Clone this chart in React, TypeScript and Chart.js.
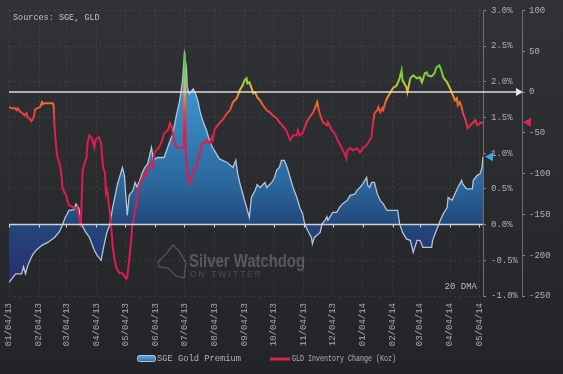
import React, { useEffect, useRef } from "react";
import { Chart, registerables } from "chart.js";

Chart.register(...registerables);

const MONO = '"Liberation Mono", "DejaVu Sans Mono", monospace';

// X axis: days since 01/04/13, monthly tick labels
const monthLabels = [
  "01/04/13", "02/04/13", "03/04/13", "04/04/13", "05/04/13", "06/04/13",
  "07/04/13", "08/04/13", "09/04/13", "10/04/13", "11/04/13", "12/04/13",
  "01/04/14", "02/04/14", "03/04/14", "04/04/14", "05/04/14",
];
const monthDays = [0, 31, 59, 90, 120, 151, 181, 212, 243, 273, 304, 334, 365, 396, 424, 455, 485];
const xMax = 489;

// Left/right axis ranges
const pctRange = [-1, 3];
const pctStep = 0.5;
const gldRange = [-250, 100];
const gldStep = 50;

// SGE Gold Premium (%, 20 DMA)
const premiumDays = [
  0, 4, 7, 13, 15, 17, 19, 20, 23, 25, 28, 34, 40, 47, 52, 55, 58, 62, 67, 69,
  72, 73, 75, 78, 83, 88, 91, 95, 98, 101, 104, 107, 112, 117, 119, 122, 124, 128, 130, 132,
  135, 137, 140, 143, 147, 149, 153, 160, 166, 169, 173, 176, 179, 181, 183, 184, 186, 190, 192, 195,
  197, 200, 204, 207, 210, 214, 217, 225, 231, 234, 236, 238, 243, 248, 250, 254, 256, 259, 264, 266,
  271, 274, 276, 279, 281, 284, 287, 290, 293, 297, 300, 303, 305, 308, 312, 313, 315, 321, 323, 326,
  328, 329, 334, 338, 341, 344, 349, 352, 357, 359, 362, 365, 369, 370, 372, 374, 377, 380, 383, 386,
  390, 401, 403, 406, 410, 414, 417, 421, 424, 427, 436, 437, 441, 445, 448, 452, 453, 457, 460, 463,
  467, 468, 472, 478, 479, 483, 486, 488, 489,
];
const premiumValues = [
  -0.81, -0.74, -0.69, -0.69, -0.59, -0.69, -0.59, -0.55, -0.46, -0.41, -0.36, -0.29, -0.25, -0.18, -0.1, -0.01, 0.1, 0.2, 0.21, 0.29,
  0.23, 0.15, 0.0, -0.08, -0.18, -0.36, -0.43, -0.5, -0.29, -0.11, 0.0, 0.24, 0.57, 0.8, 0.69, 0.13, 0.41, 0.48, 0.59, 0.53,
  0.62, 0.71, 0.8, 0.85, 1.08, 0.9, 0.94, 0.94, 1.17, 1.27, 1.55, 1.73, 2.01, 2.39, 2.2, 1.92, 1.83, 1.9, 1.85, 1.73,
  1.59, 1.45, 1.31, 1.17, 1.08, 0.99, 0.92, 0.87, 0.8, 0.9, 0.71, 0.59, 0.34, 0.1, 0.38, 0.48, 0.56, 0.52, 0.59, 0.52,
  0.59, 0.66, 0.76, 0.8, 0.9, 0.9, 0.8, 0.66, 0.52, 0.38, 0.24, 0.15, 0.01, -0.08, -0.18, -0.27, -0.18, -0.11, 0.01, 0.06,
  0.11, 0.06, 0.17, 0.17, 0.24, 0.29, 0.34, 0.41, 0.43, 0.48, 0.52, 0.57, 0.66, 0.55, 0.52, 0.59, 0.59, 0.43, 0.34, 0.29,
  0.2, 0.2, 0.01, -0.11, -0.2, -0.22, -0.39, -0.22, -0.22, -0.32, -0.32, -0.22, -0.08, 0.06, 0.15, 0.24, 0.38, 0.34, 0.43, 0.52,
  0.62, 0.57, 0.5, 0.5, 0.62, 0.69, 0.71, 0.8, 0.95,
];

// GLD Inventory Change (Koz)
const gldDays = [
  0, 3, 6, 8, 9, 12, 14, 16, 18, 19, 21, 23, 24, 26, 27, 29, 32, 34, 35, 36,
  39, 45, 46, 47, 49, 50, 52, 54, 55, 57, 59, 60, 62, 66, 68, 70, 71, 73, 74, 76,
  78, 80, 81, 83, 85, 86, 88, 89, 91, 93, 95, 97, 99, 100, 101, 102, 104, 106, 107, 109,
  111, 114, 117, 121, 122, 124, 126, 127, 132, 135, 138, 140, 142, 143, 147, 148, 150, 152, 155, 158,
  160, 164, 166, 168, 169, 171, 173, 179, 180.5, 181.3, 182.3, 184, 186, 188, 190, 192, 194, 197, 199, 202,
  204, 207, 209, 210, 212, 214, 217, 220, 225, 228, 231, 235, 238, 241, 243, 245, 246, 248, 250, 252,
  254, 256, 259, 262, 266, 269, 272, 276, 279, 282, 286, 290, 292, 293, 297, 298, 300, 303, 307, 310,
  314, 318, 319, 321, 324, 328, 329, 333, 336, 339, 343, 346, 348, 349, 352, 355, 359, 362, 365, 369,
  372, 374, 375, 377, 380, 381, 383, 385, 386, 388, 390, 393, 396, 400, 403, 405, 406, 410, 411, 414,
  417, 421, 424, 426, 429, 431, 432, 436, 439, 441, 444, 446, 448, 452, 455, 458, 460, 462, 463, 465,
  467, 468, 470, 472, 473, 476, 479, 481, 483, 486, 489,
];
const gldValues = [
  -18.7, -20, -20, -22.4, -20, -24.8, -26, -28.5, -26, -31, -32.2, -35.9, -34.6, -28.5, -21.2, -20, -18.7, -12.6, -15, -13.8,
  -13.8, -13.8, -16.3, -43.3, -71.4, -79.9, -87.3, -99.5, -116.6, -122.8, -126, -132.6, -138.8, -141, -142.4, -141, -147, -157, -165.6, -95.8,
  -87.3, -79.9, -62.8, -53, -55.5, -59.1, -67.7, -59.1, -56.7, -55.5, -62.8, -92, -99.5, -124, -120, -126, -148.5, -173, -190, -206,
  -216, -222, -222, -229, -227, -206, -181.5, -165.6, -132.6, -112, -104.4, -99.5, -103, -92, -87.3, -92, -75, -71.4, -67.7, -59.1,
  -50.6, -46.9, -38.3, -43.3, -50.6, -62.8, -67.7, -69, -67, 48.5, -71.4, -99.5, -111.8, -108, -95.8, -95.8, -87.3, -75, -62.8, -62.8,
  -59, -62.8, -55.5, -59, -46.9, -42.7, -38.3, -34.6, -26, -22.4, -12.6, -7.7, 2, 8.2, 14.3, 16.8, 10.6, 11.9, 5.8, -1.6,
  -0.4, -6.5, -10.2, -16.3, -22.4, -24.8, -28.5, -32.2, -37.1, -40.8, -46.9, -59, -55.5, -53, -53, -46.9, -53, -50.6, -37.1, -31,
  -24.8, -12.6, -18.7, -28.5, -37.1, -40.8, -37.1, -46.9, -50.6, -59, -67.7, -75, -81.4, -71.4, -69, -71.4, -69, -73.9, -69, -65.2,
  -59.1, -55.4, -43.2, -26.1, -22.4, -18.7, -24.8, -20, -22.4, -13.8, -7.7, -1.6, 4.5, 8.2, 16.8, 26.6, 14.3, 5.8, -0.4, 16.8,
  20.4, 16.8, 18, 11.9, 22.9, 24.1, 20.4, 19.2, 22.9, 30.2, 32.7, 26.6, 18, 11.9, 4.5, -4, -10.2, -7.7, -16.3, -12.6,
  -18.7, -24.8, -31, -38.3, -44.4, -40.8, -37.1, -34.6, -40.8, -38.3, -37,
];

const seriesNames = ["SGE Gold Premium", "GLD Inventory Change (Koz)"];

export default function App() {
  const ref = useRef<HTMLCanvasElement>(null);

  useEffect(() => {
    document.body.style.margin = "0";
    document.body.style.background = "#26282b";
    const canvas = ref.current as HTMLCanvasElement;

    const bgPlugin = {
      id: "bg",
      beforeDraw(chart: any) {
        const { ctx, width, height } = chart;
        ctx.save();
        const g = ctx.createLinearGradient(0, 0, 0, height);
        g.addColorStop(0, "#303236");
        g.addColorStop(1, "#222427");
        ctx.fillStyle = g;
        ctx.fillRect(0, 0, width, height);
        ctx.restore();
      },
    };

    const overlay = {
      id: "overlay",
      afterDatasetsDraw(chart: any) {
        const { ctx, chartArea: a, scales } = chart;
        const sx = scales.x, sy = scales.y, sg = scales.y2;
        ctx.save();
        // 0% baseline
        const y0 = sy.getPixelForValue(0);
        ctx.strokeStyle = "#cdd2d8";
        ctx.lineWidth = 1.5;
        ctx.beginPath();
        ctx.moveTo(a.left, y0);
        ctx.lineTo(a.right, y0);
        ctx.stroke();
        ctx.lineWidth = 1;
        monthDays.forEach((d) => {
          const x = Math.round(sx.getPixelForValue(d)) + 0.5;
          ctx.beginPath();
          ctx.moveTo(x, y0);
          ctx.lineTo(x, y0 + 3);
          ctx.stroke();
        });
        // GLD zero line with arrow
        const yg = sg.getPixelForValue(0);
        ctx.strokeStyle = "#dcdcdc";
        ctx.lineWidth = 1.5;
        ctx.beginPath();
        ctx.moveTo(a.left, yg);
        ctx.lineTo(sg.left - 4, yg);
        ctx.stroke();
        ctx.fillStyle = "#e4e4e4";
        ctx.beginPath();
        ctx.moveTo(sg.left - 6, yg - 4);
        ctx.lineTo(sg.left + 1, yg);
        ctx.lineTo(sg.left - 6, yg + 4);
        ctx.closePath();
        ctx.fill();
        // last value markers
        const lastP = premiumValues[premiumValues.length - 1];
        const yp = sy.getPixelForValue(lastP);
        ctx.fillStyle = "#38a6e3";
        ctx.beginPath();
        ctx.moveTo(sy.left + 2, yp);
        ctx.lineTo(sy.left + 10, yp - 4.5);
        ctx.lineTo(sy.left + 10, yp + 4.5);
        ctx.closePath();
        ctx.fill();
        const lastG = gldValues[gldValues.length - 1];
        const yr = sg.getPixelForValue(lastG);
        ctx.fillStyle = "#e2214f";
        ctx.beginPath();
        ctx.moveTo(sg.left + 1, yr);
        ctx.lineTo(sg.left + 9, yr - 4.5);
        ctx.lineTo(sg.left + 9, yr + 4.5);
        ctx.closePath();
        ctx.fill();
        ctx.restore();
      },
      afterDraw(chart: any) {
        const { ctx, chartArea: a } = chart;
        ctx.save();
        ctx.textBaseline = "middle";
        ctx.fillStyle = "#c2c2c2";
        ctx.font = `8.5px ${MONO}`;
        ctx.fillText("Sources: SGE, GLD", 13, 18);
        ctx.font = `9px ${MONO}`;
        ctx.fillStyle = "#bcbcbc";
        ctx.textAlign = "right";
        ctx.fillText("20 DMA", a.right - 6, a.bottom - 9);
        ctx.textAlign = "left";

        // watermark
        ctx.fillStyle = "rgba(255,255,255,0.22)";
        ctx.textBaseline = "alphabetic";
        ctx.font = 'bold 19px "Liberation Sans Narrow", "Liberation Sans", sans-serif';
        ctx.fillText("Silver Watchdog", 189, 267, 116);
        ctx.font = '8.5px "Liberation Sans", sans-serif';
        (ctx as any).letterSpacing = "2px";
        ctx.fillStyle = "rgba(255,255,255,0.17)";
        ctx.fillText("ON TWITTER", 190, 277);
        (ctx as any).letterSpacing = "0px";
        ctx.strokeStyle = "rgba(255,255,255,0.2)";
        ctx.lineWidth = 1.3;
        ctx.beginPath();
        ctx.moveTo(173, 245);
        ctx.lineTo(166, 254);
        ctx.lineTo(158, 262);
        ctx.lineTo(159, 267);
        ctx.lineTo(168, 268);
        ctx.lineTo(176, 276);
        ctx.lineTo(184, 278);
        ctx.lineTo(186, 263);
        ctx.lineTo(179, 251);
        ctx.closePath();
        ctx.stroke();

        // legend
        ctx.textBaseline = "middle";
        const ly = 359;
        const lg = ctx.createLinearGradient(0, ly - 3, 0, ly + 3);
        lg.addColorStop(0, "#5aa8d8");
        lg.addColorStop(1, "#2a6aa0");
        ctx.fillStyle = lg;
        ctx.strokeStyle = "#a8c6e0";
        ctx.lineWidth = 1;
        ctx.beginPath();
        (ctx as any).roundRect(137.5, ly - 3.5, 18, 6, 2);
        ctx.fill();
        ctx.stroke();
        ctx.fillStyle = "#b4b4b4";
        ctx.font = `9px ${MONO}`;
        ctx.fillText(seriesNames[0], 157, ly, 84);
        ctx.strokeStyle = "#d8254f";
        ctx.lineWidth = 3;
        ctx.beginPath();
        ctx.moveTo(270, ly);
        ctx.lineTo(290, ly);
        ctx.stroke();
        ctx.fillText(seriesNames[1], 292, ly, 104);
        ctx.restore();
      },
    };

    const tickFont = { family: MONO, size: 9 };

    const chart = new Chart(canvas, {
      type: "line",
      data: {
        datasets: [
          {
            label: seriesNames[1],
            yAxisID: "y2",
            order: 0,
            data: gldDays.map((d, i) => ({ x: d, y: gldValues[i] })),
            borderWidth: 2,
            fill: false,
            pointRadius: 0,
            tension: 0,
            borderColor: (c: any) => {
              const ch = c.chart;
              const s = ch.scales && ch.scales.y2;
              if (!ch.chartArea || !s) return "#e0204a";
              const top = s.getPixelForValue(30);
              const bot = s.getPixelForValue(-50);
              const f = (v: number) => (s.getPixelForValue(v) - top) / (bot - top);
              const g = ch.ctx.createLinearGradient(0, top, 0, bot);
              g.addColorStop(0, "#5ccd3e");
              g.addColorStop(f(12), "#a4d23a");
              g.addColorStop(f(2), "#e9b236");
              g.addColorStop(f(-10), "#f0782c");
              g.addColorStop(f(-25), "#e8443e");
              g.addColorStop(1, "#df1c4d");
              return g;
            },
          },
          {
            label: seriesNames[0],
            yAxisID: "y",
            order: 1,
            data: premiumDays.map((d, i) => ({ x: d, y: premiumValues[i] })),
            borderWidth: 1.3,
            borderColor: "#b3c5d6",
            fill: "origin",
            pointRadius: 0,
            tension: 0,
            backgroundColor: (c: any) => {
              const ch = c.chart;
              const s = ch.scales && ch.scales.y;
              if (!ch.chartArea || !s) return "#2a6399";
              const top = s.getPixelForValue(3);
              const bot = s.getPixelForValue(-1);
              const f = (v: number) => (s.getPixelForValue(v) - top) / (bot - top);
              const g = ch.ctx.createLinearGradient(0, top, 0, bot);
              g.addColorStop(0, "#4fa8de");
              g.addColorStop(f(1.5), "#3888c0");
              g.addColorStop(f(0.5), "#2a6499");
              g.addColorStop(f(0), "#22477a");
              g.addColorStop(f(-0.5), "#283674");
              g.addColorStop(1, "#2d2464");
              return g;
            },
          },
        ],
      },
      options: {
        responsive: false,
        animation: false,
        layout: { padding: { left: 9, right: 0, top: 10, bottom: 28 } },
        plugins: { legend: { display: false }, tooltip: { enabled: false } },
        scales: {
          x: {
            type: "linear",
            min: 0,
            max: xMax,
            afterBuildTicks: (s: any) => {
              s.ticks = monthDays.map((v) => ({ value: v }));
            },
            afterFit: (s: any) => {
              s.height = 50;
            },
            ticks: {
              autoSkip: false,
              minRotation: 90,
              maxRotation: 90,
              padding: 7,
              color: "#a9a9a9",
              font: tickFont,
              callback: (_v: any, i: number) => monthLabels[i],
            },
            grid: { color: "rgba(255,255,255,0.09)", drawTicks: false },
            border: { display: false, dash: [2, 3] },
          },
          y: {
            position: "right",
            weight: 0,
            min: pctRange[0],
            max: pctRange[1],
            afterFit: (s: any) => {
              s.width = 39;
            },
            ticks: {
              stepSize: pctStep,
              padding: 5,
              color: "#b0b0b0",
              font: tickFont,
              callback: (v: any) => Number(v).toFixed(1) + "%",
            },
            grid: { color: "rgba(255,255,255,0.09)", tickColor: "#8a8a8a", tickLength: 3 },
            border: { display: true, color: "#6e6e6e", dash: [2, 3] },
          },
          y2: {
            position: "right",
            weight: 1,
            min: gldRange[0],
            max: gldRange[1],
            afterFit: (s: any) => {
              s.width = 41;
            },
            ticks: {
              stepSize: gldStep,
              padding: 4,
              color: "#b0b0b0",
              font: tickFont,
            },
            grid: { drawOnChartArea: false, tickColor: "#8a8a8a", tickLength: 3 },
            border: { display: true, color: "#6e6e6e" },
          },
        },
      },
      plugins: [bgPlugin, overlay],
    } as any);

    return () => chart.destroy();
  }, []);

  return <canvas ref={ref} width={563} height={374} style={{ display: "block" }} />;
}
